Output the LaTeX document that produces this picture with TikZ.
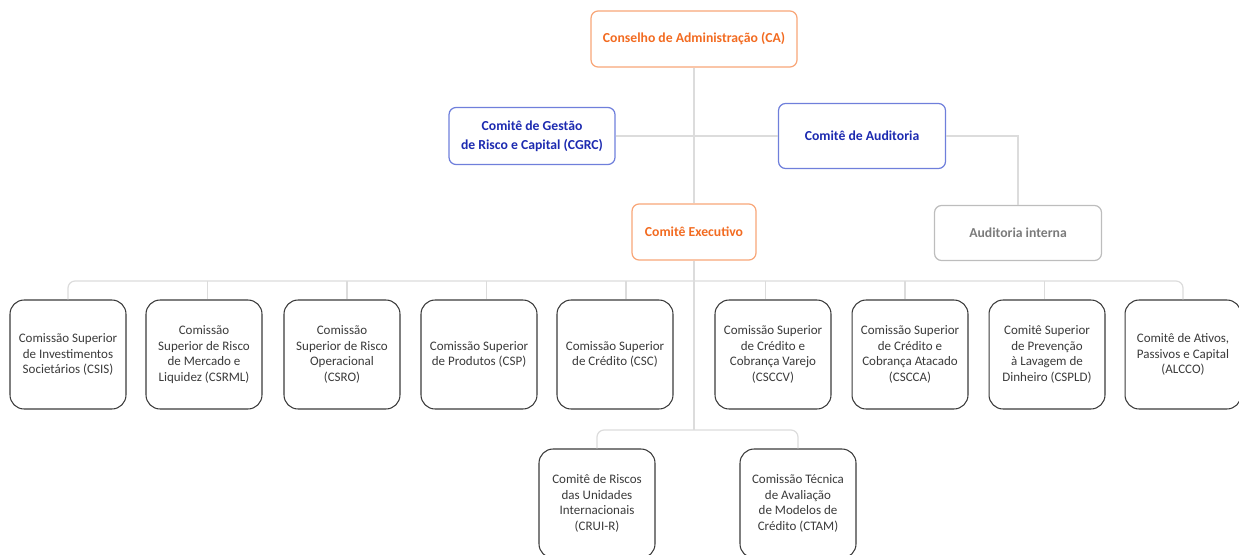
\documentclass[tikz,border=0pt]{standalone}
\usepackage{fontspec}
\setmainfont{Carlito}
\definecolor{laranja}{HTML}{F26B21}
\definecolor{laranjaborda}{HTML}{F8A678}
\definecolor{azul}{HTML}{1C2AB0}
\definecolor{azulborda}{HTML}{6F7FDB}
\definecolor{cinza}{HTML}{7B7B7B}
\definecolor{cinzaborda}{HTML}{BDBDBD}
\definecolor{linhacor}{HTML}{DCDCDC}
\definecolor{caixacor}{HTML}{3A3A3A}
\tikzset{
  topo/.style={draw, rounded corners=4pt, align=center, line width=0.7pt,
    font=\bfseries\fontsize{7.8}{10.8}\selectfont},
  laranjabox/.style={topo, draw=laranjaborda, text=laranja},
  azulbox/.style={topo, draw=azulborda, text=azul},
  cinzabox/.style={topo, draw=cinzaborda, text=cinza},
  comissao/.style={draw=caixacor, rounded corners=8pt, align=center, text=caixacor,
    minimum width=2.32cm, minimum height=2.18cm, line width=0.6pt,
    font=\fontsize{7.4}{8.9}\selectfont},
  linha/.style={draw=linhacor, line width=0.7pt}
}
\begin{document}
\begin{tikzpicture}[x=0.02cm, y=-0.02cm]
  \useasboundingbox (0,0) rectangle (1239,554);
  \clip (0,0) rectangle (1239,554);
  % Conselho e comites
  \node[laranjabox, minimum width=4.12cm, minimum height=1.12cm] (ca) at (694,39) {Conselho de Administração (CA)};
  \node[azulbox, minimum width=3.32cm, minimum height=1.14cm] (cgrc) at (532,136) {Comitê de Gestão\\de Risco e Capital (CGRC)};
  \node[azulbox, minimum width=3.34cm, minimum height=1.30cm] (aud) at (862,136) {Comitê de Auditoria};
  \node[laranjabox, minimum width=2.48cm, minimum height=1.12cm] (ce) at (694,232) {Comitê Executivo};
  \node[cinzabox, minimum width=3.34cm, minimum height=1.10cm] (ai) at (1018,233) {Auditoria interna};
  \draw[linha] (ca) -- (ce);
  \draw[linha] (cgrc) -- (aud);
  \draw[linha] (aud) -| (ai);
  % Comissoes
  \node[comissao] (csis) at (68,354.5) {Comissão Superior\\de Investimentos\\Societários (CSIS)};
  \node[comissao] (csrml) at (204,354.5) {Comissão\\Superior de Risco\\de Mercado e\\Liquidez (CSRML)};
  \node[comissao] (csro) at (342,354.5) {Comissão\\Superior de Risco\\Operacional\\(CSRO)};
  \node[comissao] (csp) at (479,354.5) {Comissão Superior\\de Produtos (CSP)};
  \node[comissao] (csc) at (615,354.5) {Comissão Superior\\de Crédito (CSC)};
  \node[comissao] (csccv) at (773,354.5) {Comissão Superior\\de Crédito e\\Cobrança Varejo\\(CSCCV)};
  \node[comissao] (cscca) at (910,354.5) {Comissão Superior\\de Crédito e\\Cobrança Atacado\\(CSCCA)};
  \node[comissao] (cspld) at (1047,354.5) {Comitê Superior\\de Prevenção\\à Lavagem de\\Dinheiro (CSPLD)};
  \node[comissao] (alcco) at (1183,354.5) {Comitê de Ativos,\\Passivos e Capital\\(ALCCO)};
  % Barramento
  \coordinate (bus) at (694,281);
  \draw[linha, rounded corners=4pt] (csis.north) |- (bus) -| (alcco.north);
  \coordinate (d2) at (207.5,281);
  \coordinate (d3) at (347,281);
  \coordinate (d4) at (486.5,281);
  \coordinate (d5) at (626,281);
  \coordinate (d6) at (765.5,281);
  \coordinate (d7) at (905,281);
  \coordinate (d8) at (1044.5,281);
  \draw[linha] (d2) -- (d2 |- csrml.north);
  \draw[linha] (d3) -- (d3 |- csro.north);
  \draw[linha] (d4) -- (d4 |- csp.north);
  \draw[linha] (d5) -- (d5 |- csc.north);
  \draw[linha] (d6) -- (d6 |- csccv.north);
  \draw[linha] (d7) -- (d7 |- cscca.north);
  \draw[linha] (d8) -- (d8 |- cspld.north);
  % Ramo inferior
  \node[comissao] (crui) at (597,503.5) {Comitê de Riscos\\das Unidades\\Internacionais\\(CRUI-R)};
  \node[comissao] (ctam) at (798,503.5) {Comissão Técnica\\de Avaliação\\de Modelos de\\Crédito (CTAM)};
  \coordinate (rami) at (694,430);
  \draw[linha] (ce) -- (rami);
  \draw[linha, rounded corners=4pt] (crui.north) |- (rami) -| (ctam.north);
\end{tikzpicture}
\end{document}
